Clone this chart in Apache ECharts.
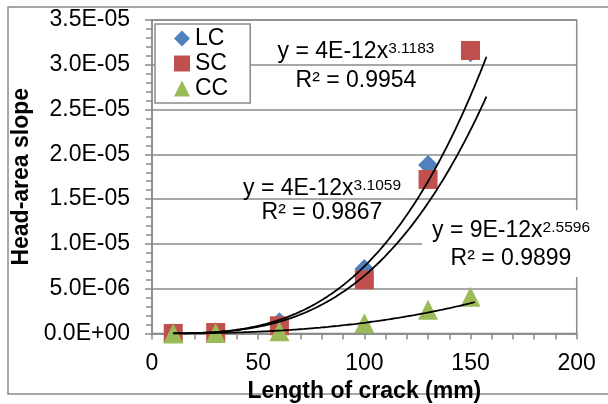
<!DOCTYPE html>
<html>
<head>
<meta charset="utf-8">
<script src="https://cdn.jsdelivr.net/npm/echarts@6/dist/echarts.min.js"></script>
<style>
  html, body { margin: 0; padding: 0; background: #fff; }
  #chart { width: 608px; height: 404px; }
</style>
</head>
<body>
<div id="chart"></div>
<script>
// Measured head-area slope against crack length for the three crack types
const crackLength = [10, 30, 60, 100, 130, 150];
const lcSlope = [7.1e-9, 1.36e-7, 1.26e-6, 7.2e-6, 1.88e-5, 3.14e-5];
const scSlope = [7.2e-9, 1.08e-7, 8.6e-7, 6.0e-6, 1.72e-5, 3.16e-5];
const ccSlope = [4.2e-9, 4.3e-8, 2.5e-7, 1.15e-6, 2.65e-6, 4.1e-6];
const seriesNames = ['LC', 'SC', 'CC'];
const seriesColors = ['#4F81BD', '#C0504D', '#9BBB59'];

// Axis tick labels
const xTickLabels = ['0', '50', '100', '150', '200'];
const yTickLabels = ['0.0E+00', '5.0E-06', '1.0E-05', '1.5E-05', '2.0E-05', '2.5E-05', '3.0E-05', '3.5E-05'];

// Power trendline extents (x from, x to) and their equation texts
const trendRange = [[10, 157.5], [10, 157.5], [10, 152]];
const trendEquation = ['y = 4E-12x', 'y = 4E-12x', 'y = 9E-12x'];
const trendExponent = ['3.1183', '3.1059', '2.5596'];
const trendRSquared = ['R² = 0.9954', 'R² = 0.9867', 'R² = 0.9899'];

const FONT = '"Liberation Sans", Arial, sans-serif';

// Least-squares power fit y = a * x^b (linear regression in log-log space)
function powerFit(xs, ys) {
  const lx = xs.map(Math.log), ly = ys.map(Math.log);
  const n = xs.length;
  const mx = lx.reduce((s, v) => s + v, 0) / n;
  const my = ly.reduce((s, v) => s + v, 0) / n;
  let sxy = 0, sxx = 0;
  for (let i = 0; i < n; i++) {
    sxy += (lx[i] - mx) * (ly[i] - my);
    sxx += (lx[i] - mx) * (lx[i] - mx);
  }
  const b = sxy / sxx;
  return { a: Math.exp(my - b * mx), b: b };
}

function trendPoints(xs, ys, range) {
  const fit = powerFit(xs, ys);
  const pts = [];
  const steps = 150;
  for (let i = 0; i <= steps; i++) {
    const x = range[0] + (range[1] - range[0]) * i / steps;
    pts.push([x, fit.a * Math.pow(x, fit.b)]);
  }
  return pts;
}

const allSlopes = [lcSlope, scSlope, ccSlope];
const symbols = ['diamond', 'rect', 'triangle'];
const symbolSizes = [20, 19, 20];

const scatterSeries = allSlopes.map((vals, k) => ({
  name: seriesNames[k],
  type: 'scatter',
  symbol: symbols[k],
  symbolSize: symbolSizes[k],
  itemStyle: { color: seriesColors[k], opacity: 1 },
  data: crackLength.map((x, i) => [x, vals[i]]),
  z: 2
}));

const trendSeries = allSlopes.map((vals, k) => ({
  name: seriesNames[k] + ' trend',
  type: 'line',
  showSymbol: false,
  symbol: 'none',
  silent: true,
  lineStyle: { color: '#000', width: 1.8 },
  data: trendPoints(crackLength, vals, trendRange[k]),
  z: 3
}));

// Equation labels: centre x, line-1 y, line-2 y
const labelPos = [[356, 52, 80.5], [322, 189, 212.5], [511, 231, 259]];

const labelGraphics = [];
labelPos.forEach((p, k) => {
  labelGraphics.push({
    type: 'text', x: p[0], y: p[1], z: 10, silent: true,
    style: {
      text: '{m|' + trendEquation[k] + '}{s|' + trendExponent[k] + '}',
      align: 'center', verticalAlign: 'middle',
      rich: {
        m: { fontSize: 23, fontFamily: FONT, fill: '#000', lineHeight: 23, verticalAlign: 'bottom' },
        s: { fontSize: 15.5, fontFamily: FONT, fill: '#000', lineHeight: 23, verticalAlign: 'top' }
      }
    }
  });
  labelGraphics.push({
    type: 'text', x: p[0], y: p[2], z: 10, silent: true,
    style: {
      text: trendRSquared[k], align: 'center', verticalAlign: 'middle',
      fontSize: 23, fontFamily: FONT, fill: '#000'
    }
  });
});

const chart = echarts.init(document.getElementById('chart'), null, { renderer: 'canvas' });

chart.setOption({
  backgroundColor: '#fff',
  animation: false,
  grid: {
    left: 152, right: 31.3, top: 20, bottom: 70.5,
    show: true, borderColor: '#8a8a8a', borderWidth: 1.5,
    backgroundColor: 'transparent',
    outerBoundsMode: 'none'
  },
  legend: {
    data: seriesNames,
    orient: 'vertical',
    left: 155, top: 24,
    padding: [3, 22, 3, 19],
    itemGap: 2,
    itemWidth: 16, itemHeight: 16,
    backgroundColor: '#fff',
    borderColor: '#8a8a8a', borderWidth: 1.5,
    textStyle: { fontSize: 23, fontFamily: FONT, color: '#000', lineHeight: 23 },
    selectedMode: false
  },
  xAxis: {
    type: 'value', min: 0, max: 200, interval: 50,
    name: 'Length of crack (mm)', nameLocation: 'middle', nameGap: 33,
    nameTextStyle: { fontSize: 23, fontWeight: 'bold', fontFamily: FONT, color: '#000' },
    axisLine: { show: true, onZero: false, lineStyle: { color: '#8a8a8a', width: 1.5 } },
    axisTick: { show: true, length: 6, lineStyle: { color: '#8a8a8a', width: 1.5 } },
    minorTick: { show: true, splitNumber: 5, length: 6, lineStyle: { color: '#8a8a8a', width: 1.5 } },
    splitLine: { show: false },
    axisLabel: {
      margin: 19, fontSize: 23, fontFamily: FONT, color: '#000',
      formatter: v => xTickLabels[Math.round(v / 50)]
    }
  },
  yAxis: {
    type: 'value', min: 0, max: 3.5e-5, interval: 5e-6,
    name: 'Head-area slope', nameLocation: 'middle', nameGap: 104, nameRotate: 90,
    nameTextStyle: { fontSize: 23, fontWeight: 'bold', fontFamily: FONT, color: '#000' },
    axisLine: { show: true, lineStyle: { color: '#8a8a8a', width: 1.5 } },
    axisTick: { show: true, length: 7, lineStyle: { color: '#8a8a8a', width: 1.5 } },
    minorTick: { show: true, splitNumber: 5, length: 6, lineStyle: { color: '#8a8a8a', width: 1.5 } },
    splitLine: { show: true, lineStyle: { color: '#8a8a8a', width: 1.5 } },
    axisLabel: {
      margin: 22, fontSize: 23, fontFamily: FONT, color: '#000',
      formatter: v => yTickLabels[Math.round(v / 5e-6)]
    }
  },
  graphic: [
    {
      type: 'rect', z: -1, silent: true,
      shape: { x: 8, y: 7, width: 620, height: 387 },
      style: { fill: 'none', stroke: '#8a8a8a', lineWidth: 1.5 }
    },
    {
      type: 'rect', z: 1, silent: true,
      shape: { x: 422, y: 210, width: 184, height: 67 },
      style: { fill: '#fff' }
    }
  ].concat(labelGraphics),
  series: scatterSeries.concat(trendSeries)
});
</script>
</body>
</html>
